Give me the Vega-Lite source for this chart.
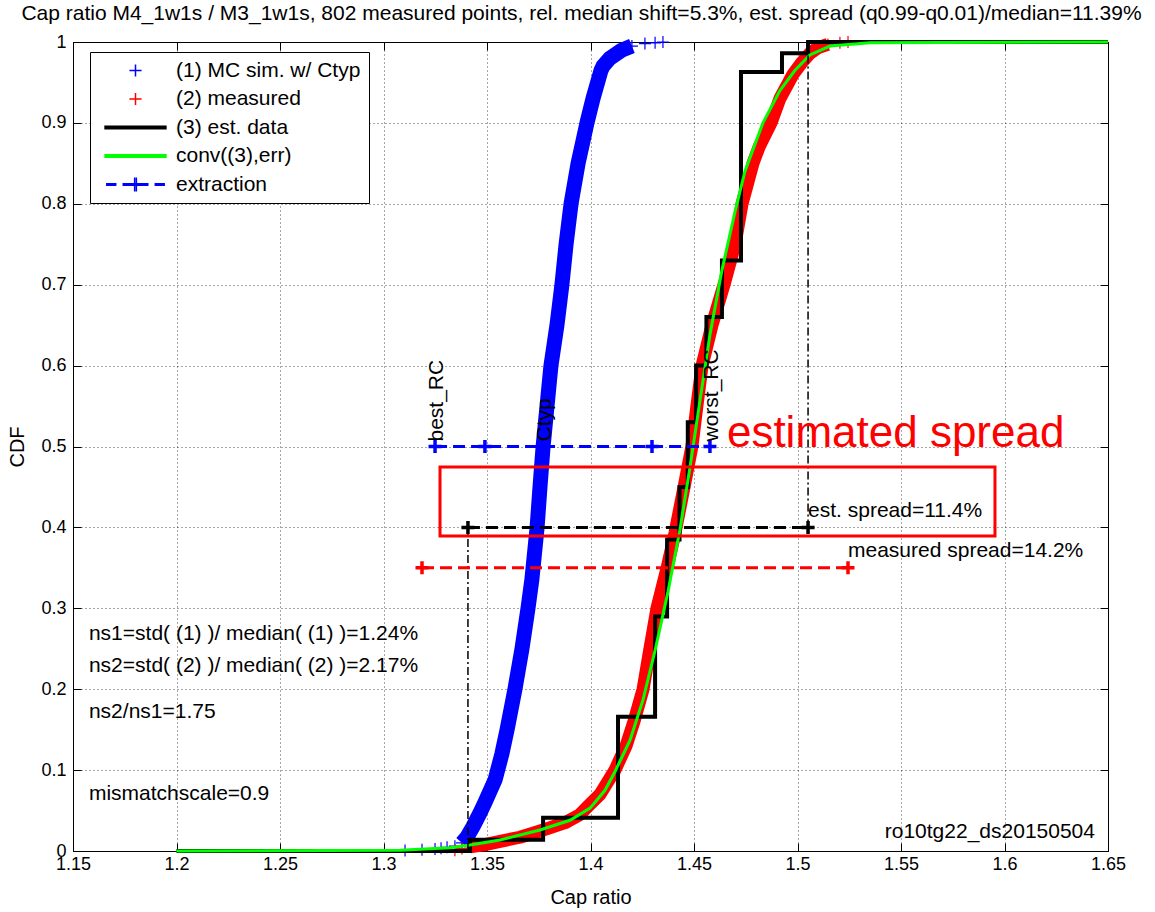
{
"$schema": "https://vega.github.io/schema/vega-lite/v6.json",
"autosize": "none",
"width": 1035,
"height": 809,
"padding": {"left": 73, "top": 42, "right": 47, "bottom": 61},
"background": "white",
"title": {"text": "Cap ratio M4_1w1s / M3_1w1s, 802 measured points, rel. median shift=5.3%, est. spread (q0.99-q0.01)/median=11.39%", "fontSize": 21, "fontWeight": "normal", "font": "Liberation Sans", "color": "#000", "anchor": "middle", "offset": 9, "dx": -9},
"datasets": {
"mc": [
{"p":0.0005,"x":1.3104},{"p":0.0015,"x":1.3186},{"p":0.0025,"x":1.3249},{"p":0.0035,"x":1.3278},{"p":0.0045,"x":1.3307},{"p":0.006,"x":1.3345},{"p":0.01,"x":1.3379},{"p":0.017,"x":1.3403},{"p":0.03,"x":1.3432},{"p":0.047,"x":1.3466},{"p":0.06,"x":1.349},{"p":0.088,"x":1.3539},{"p":0.12,"x":1.3572},{"p":0.15,"x":1.3597},{"p":0.2,"x":1.3635},{"p":0.25,"x":1.3669},{"p":0.3,"x":1.3698},{"p":0.336,"x":1.3717},{"p":0.4,"x":1.3742},{"p":0.45,"x":1.3756},{"p":0.5,"x":1.3771},{"p":0.55,"x":1.379},{"p":0.6,"x":1.3809},{"p":0.65,"x":1.3838},{"p":0.7,"x":1.3862},{"p":0.75,"x":1.3882},{"p":0.8,"x":1.3906},{"p":0.85,"x":1.394},{"p":0.9,"x":1.3983},{"p":0.93,"x":1.4012},{"p":0.965,"x":1.4051},{"p":0.97,"x":1.406},{"p":0.98,"x":1.4094},{"p":0.99,"x":1.4152},{"p":0.995,"x":1.42},{"p":0.998,"x":1.4263},{"p":0.999,"x":1.4312},{"p":1.0,"x":1.435}
],
"meas": [
{"p":0.001,"x":1.3345},{"p":0.003,"x":1.3379},{"p":0.005,"x":1.3418},{"p":0.008,"x":1.349},{"p":0.012,"x":1.3563},{"p":0.017,"x":1.3659},{"p":0.022,"x":1.3722},{"p":0.028,"x":1.3795},{"p":0.035,"x":1.3877},{"p":0.045,"x":1.3949},{"p":0.054,"x":1.3983},{"p":0.07,"x":1.4046},{"p":0.1,"x":1.4118},{"p":0.13,"x":1.4172},{"p":0.16,"x":1.421},{"p":0.2,"x":1.4254},{"p":0.25,"x":1.4287},{"p":0.3,"x":1.4321},{"p":0.35,"x":1.437},{"p":0.393,"x":1.4408},{"p":0.45,"x":1.4452},{"p":0.5,"x":1.449},{"p":0.55,"x":1.4514},{"p":0.6,"x":1.4539},{"p":0.65,"x":1.4587},{"p":0.7,"x":1.4645},{"p":0.75,"x":1.4698},{"p":0.8,"x":1.4732},{"p":0.85,"x":1.4785},{"p":0.87,"x":1.4814},{"p":0.9,"x":1.4872},{"p":0.93,"x":1.4915},{"p":0.96,"x":1.4978},{"p":0.975,"x":1.5022},{"p":0.986,"x":1.506},{"p":0.993,"x":1.5099},{"p":0.997,"x":1.5147},{"p":0.999,"x":1.5205},{"p":1.0,"x":1.5244}
],
"est": [
{"o":1,"x":1.2,"y":0},{"o":2,"x":1.3418,"y":0},{"o":3,"x":1.3418,"y":0.014},{"o":4,"x":1.3771,"y":0.014},{"o":5,"x":1.3771,"y":0.041},{"o":6,"x":1.4133,"y":0.041},{"o":7,"x":1.4133,"y":0.166},{"o":8,"x":1.4312,"y":0.166},{"o":9,"x":1.4312,"y":0.29},{"o":10,"x":1.437,"y":0.29},{"o":11,"x":1.437,"y":0.385},{"o":12,"x":1.443,"y":0.385},{"o":13,"x":1.443,"y":0.45},{"o":14,"x":1.447,"y":0.45},{"o":15,"x":1.447,"y":0.53},{"o":16,"x":1.451,"y":0.53},{"o":17,"x":1.451,"y":0.6},{"o":18,"x":1.456,"y":0.6},{"o":19,"x":1.456,"y":0.66},{"o":20,"x":1.4635,"y":0.66},{"o":21,"x":1.4635,"y":0.73},{"o":22,"x":1.4727,"y":0.73},{"o":23,"x":1.4727,"y":0.963},{"o":24,"x":1.4925,"y":0.963},{"o":25,"x":1.4925,"y":0.986},{"o":26,"x":1.5051,"y":0.986},{"o":27,"x":1.5051,"y":1.0},{"o":28,"x":1.65,"y":1.0}
],
"conv": [
{"x":1.2,"y":0},{"x":1.308,"y":0.001},{"x":1.3321,"y":0.004},{"x":1.3418,"y":0.0074},{"x":1.3563,"y":0.0136},{"x":1.3756,"y":0.026},{"x":1.3901,"y":0.038},{"x":1.3998,"y":0.053},{"x":1.407,"y":0.075},{"x":1.4118,"y":0.098},{"x":1.4191,"y":0.137},{"x":1.4254,"y":0.187},{"x":1.4312,"y":0.248},{"x":1.4374,"y":0.32},{"x":1.4432,"y":0.397},{"x":1.4481,"y":0.475},{"x":1.4529,"y":0.557},{"x":1.4577,"y":0.638},{"x":1.4635,"y":0.718},{"x":1.4698,"y":0.79},{"x":1.4746,"y":0.84},{"x":1.4833,"y":0.9},{"x":1.4915,"y":0.94},{"x":1.4988,"y":0.965},{"x":1.506,"y":0.984},{"x":1.5157,"y":0.995},{"x":1.535,"y":0.999},{"x":1.65,"y":1.0}
],
"vl": [
{"g":"a","x":1.3408,"y":0},{"g":"a","x":1.3408,"y":0.4},{"g":"b","x":1.5051,"y":0.4},{"g":"b","x":1.5051,"y":1.0}
],
"exb": [{"x":1.3249,"y":0.5},{"x":1.349,"y":0.5},{"x":1.3771,"y":0.5},{"x":1.4297,"y":0.5},{"x":1.4577,"y":0.5}],
"exk": [{"x":1.3408,"y":0.4},{"x":1.5051,"y":0.4}],
"exr": [{"x":1.3186,"y":0.35},{"x":1.5244,"y":0.35}],
"box": [{"x1":1.3273,"x2":1.5954,"y1":0.3894,"y2":0.4747}],
"rc": [{"x":1.3249,"y":0.5,"t":"best_RC"},{"x":1.3771,"y":0.5,"t":"Ctyp"},{"x":1.4577,"y":0.5,"t":"worst_RC"}],
"notes": [{"x":1.1577,"y":0.2608,"t":"ns1=std( (1) )/ median( (1) )=1.24%"},{"x":1.1577,"y":0.2213,"t":"ns2=std( (2) )/ median( (2) )=2.17%"},{"x":1.1577,"y":0.1644,"t":"ns2/ns1=1.75"},{"x":1.1577,"y":0.063,"t":"mismatchscale=0.9"},{"x":1.5051,"y":0.4129,"t":"est. spread=11.4%"},{"x":1.5244,"y":0.3634,"t":"measured spread=14.2%"}],
"big": [{"x":1.4659,"y":0.5,"t":"estimated spread"}],
"corner": [{"x":1.6437,"y":0.016,"t":"ro10tg22_ds20150504"}],
"leg": [{"s":"(1) MC sim. w/ Ctyp"},{"s":"(2) measured"},{"s":"(3) est. data"},{"s":"conv((3),err)"},{"s":"extraction"}]
},
"layer": [
{"data": {"name": "mc"}, "transform": [{"filter": "datum.p >= 0.008 && datum.p <= 0.997"}],
 "mark": {"type": "line", "color": "#0000ff", "strokeWidth": 15, "strokeCap": "butt", "strokeJoin": "round"},
 "encoding": {
  "x": {"field": "x", "type": "quantitative", "scale": {"domain": [1.15, 1.65], "nice": false, "zero": false},
        "axis": {"orient": "bottom", "values": [1.15,1.2,1.25,1.3,1.35,1.4,1.45,1.5,1.55,1.6,1.65], "format": "~g", "grid": true, "tickSize": -8, "labelPadding": 12, "title": "Cap ratio", "titlePadding": 14}},
  "y": {"field": "p", "type": "quantitative", "scale": {"domain": [0, 1], "nice": false, "zero": false},
        "axis": {"orient": "left", "values": [0,0.1,0.2,0.3,0.4,0.5,0.6,0.7,0.8,0.9,1], "format": "~g", "grid": true, "tickSize": -8, "labelPadding": 15, "title": "CDF", "titlePadding": 13}},
  "order": {"field": "p"}}},
{"data": {"name": "mc"},
 "mark": {"type": "point", "shape": "M-1,0H1M0,-1V1", "size": 144, "filled": false, "color": "#0000ff", "strokeWidth": 1.2, "opacity": 1},
 "encoding": {
  "x": {"field": "x", "type": "quantitative", "axis": {"orient": "top", "values": [1.15,1.2,1.25,1.3,1.35,1.4,1.45,1.5,1.55,1.6,1.65], "labels": false, "grid": false, "tickSize": -8, "title": null}},
  "y": {"field": "p", "type": "quantitative", "axis": {"orient": "right", "values": [0,0.1,0.2,0.3,0.4,0.5,0.6,0.7,0.8,0.9,1], "labels": false, "grid": false, "tickSize": -8, "title": null}}}},
{"data": {"name": "meas"}, "transform": [{"filter": "datum.p >= 0.004 && datum.p <= 0.997"}],
 "mark": {"type": "line", "color": "#ff0000", "strokeWidth": 13, "strokeCap": "butt", "strokeJoin": "round"},
 "encoding": {"x": {"field": "x", "type": "quantitative", "axis": null}, "y": {"field": "p", "type": "quantitative", "axis": null}, "order": {"field": "p"}}},
{"data": {"name": "meas"},
 "mark": {"type": "point", "shape": "M-1,0H1M0,-1V1", "size": 144, "filled": false, "color": "#ff0000", "strokeWidth": 1.2, "opacity": 1},
 "encoding": {"x": {"field": "x", "type": "quantitative", "axis": null}, "y": {"field": "p", "type": "quantitative", "axis": null}}},
{"data": {"name": "est"},
 "mark": {"type": "line", "color": "#000000", "strokeWidth": 4, "strokeJoin": "miter"},
 "encoding": {"x": {"field": "x", "type": "quantitative", "axis": null}, "y": {"field": "y", "type": "quantitative", "axis": null}, "order": {"field": "o"}}},
{"data": {"name": "conv"},
 "mark": {"type": "line", "color": "#00ff00", "strokeWidth": 3},
 "encoding": {"x": {"field": "x", "type": "quantitative", "axis": null}, "y": {"field": "y", "type": "quantitative", "axis": null}}},
{"data": {"name": "vl"},
 "mark": {"type": "line", "color": "#000000", "strokeWidth": 1.5, "strokeDash": [8, 3, 2, 3]},
 "encoding": {"x": {"field": "x", "type": "quantitative", "axis": null}, "y": {"field": "y", "type": "quantitative", "axis": null}, "detail": {"field": "g"}, "order": {"field": "y"}}},
{"data": {"name": "box"},
 "mark": {"type": "rect", "fillOpacity": 0, "stroke": "#ff0000", "strokeWidth": 3},
 "encoding": {"x": {"field": "x1", "type": "quantitative", "axis": null}, "x2": {"field": "x2"}, "y": {"field": "y1", "type": "quantitative", "axis": null}, "y2": {"field": "y2"}}},
{"data": {"name": "exb"},
 "mark": {"type": "line", "color": "#0000ff", "strokeWidth": 3, "strokeDash": [12, 6]},
 "encoding": {"x": {"field": "x", "type": "quantitative", "axis": null}, "y": {"field": "y", "type": "quantitative", "axis": null}}},
{"data": {"name": "exb"},
 "mark": {"type": "point", "shape": "M-1,0H1M0,-1V1", "size": 169, "filled": false, "color": "#0000ff", "strokeWidth": 3.5, "opacity": 1},
 "encoding": {"x": {"field": "x", "type": "quantitative", "axis": null}, "y": {"field": "y", "type": "quantitative", "axis": null}}},
{"data": {"name": "exk"},
 "mark": {"type": "line", "color": "#000000", "strokeWidth": 3, "strokeDash": [12, 6]},
 "encoding": {"x": {"field": "x", "type": "quantitative", "axis": null}, "y": {"field": "y", "type": "quantitative", "axis": null}}},
{"data": {"name": "exk"},
 "mark": {"type": "point", "shape": "M-1,0H1M0,-1V1", "size": 169, "filled": false, "color": "#000000", "strokeWidth": 3.5, "opacity": 1},
 "encoding": {"x": {"field": "x", "type": "quantitative", "axis": null}, "y": {"field": "y", "type": "quantitative", "axis": null}}},
{"data": {"name": "exr"},
 "mark": {"type": "line", "color": "#ff0000", "strokeWidth": 3, "strokeDash": [12, 6]},
 "encoding": {"x": {"field": "x", "type": "quantitative", "axis": null}, "y": {"field": "y", "type": "quantitative", "axis": null}}},
{"data": {"name": "exr"},
 "mark": {"type": "point", "shape": "M-1,0H1M0,-1V1", "size": 169, "filled": false, "color": "#ff0000", "strokeWidth": 3.5, "opacity": 1},
 "encoding": {"x": {"field": "x", "type": "quantitative", "axis": null}, "y": {"field": "y", "type": "quantitative", "axis": null}}},
{"data": {"name": "rc"},
 "mark": {"type": "text", "angle": 270, "align": "left", "baseline": "middle", "fontSize": 21, "font": "Liberation Sans", "color": "#000", "dx": 5, "dy": 2},
 "encoding": {"x": {"field": "x", "type": "quantitative", "axis": null}, "y": {"field": "y", "type": "quantitative", "axis": null}, "text": {"field": "t"}}},
{"data": {"name": "notes"},
 "mark": {"type": "text", "align": "left", "baseline": "alphabetic", "fontSize": 21, "font": "Liberation Sans", "color": "#000"},
 "encoding": {"x": {"field": "x", "type": "quantitative", "axis": null}, "y": {"field": "y", "type": "quantitative", "axis": null}, "text": {"field": "t"}}},
{"data": {"name": "big"},
 "mark": {"type": "text", "align": "left", "baseline": "alphabetic", "fontSize": 44, "font": "Liberation Sans", "color": "#ff0000"},
 "encoding": {"x": {"field": "x", "type": "quantitative", "axis": null}, "y": {"field": "y", "type": "quantitative", "axis": null}, "text": {"field": "t"}}},
{"data": {"name": "corner"},
 "mark": {"type": "text", "align": "right", "baseline": "alphabetic", "fontSize": 21, "font": "Liberation Sans", "color": "#000"},
 "encoding": {"x": {"field": "x", "type": "quantitative", "axis": null}, "y": {"field": "y", "type": "quantitative", "axis": null}, "text": {"field": "t"}}},
{"data": {"name": "leg"},
 "mark": {"type": "point", "filled": false, "opacity": 1},
 "encoding": {
  "x": {"field": "lx", "type": "quantitative", "axis": null},
  "y": {"field": "ly", "type": "quantitative", "axis": null},
  "color": {"field": "s", "type": "nominal",
    "scale": {"domain": ["(1) MC sim. w/ Ctyp", "(2) measured", "(3) est. data", "conv((3),err)", "extraction"], "range": ["#0000ff", "#ff0000", "#000000", "#00ff00", "#0000ff"]},
    "legend": {"orient": "none", "legendX": 17, "legendY": 10, "title": null, "padding": 8, "symbolOffset": 27, "labelOffset": 30, "rowPadding": 6.5, "symbolSize": 300, "symbolStrokeWidth": 1.5, "labelFontSize": 21, "labelFont": "Liberation Sans", "labelColor": "#000", "labelLimit": 400, "fillColor": "#ffffff", "strokeColor": "#000000", "cornerRadius": 0}},
  "shape": {"field": "s", "type": "nominal",
    "scale": {"domain": ["(1) MC sim. w/ Ctyp", "(2) measured", "(3) est. data", "conv((3),err)", "extraction"],
      "range": ["M-0.7,0H0.7M0,-0.7V0.7", "M-0.7,0H0.7M0,-0.7V0.7", "M-3.6,-0.15H3.6M-3.6,-0.05H3.6M-3.6,0.05H3.6M-3.6,0.15H3.6", "M-3.6,-0.15H3.6M-3.6,-0.05H3.6M-3.6,0.05H3.6M-3.6,0.15H3.6", "M-3.4,-0.1H-2.2M-3.4,0.1H-2.2M-1.5,-0.1H1.5M-1.5,0.1H1.5M-0.1,-0.8V0.8M0.1,-0.8V0.8M2.2,-0.1H3.4M2.2,0.1H3.4"]},
    "legend": {"orient": "none", "legendX": 17, "legendY": 10, "title": null}}}}
],
"resolve": {"axis": {"x": "independent", "y": "independent"}},
"config": {
 "font": "Liberation Sans",
 "view": {"stroke": "#000000", "strokeWidth": 1},
 "axis": {"domainColor": "#000", "tickColor": "#000", "labelColor": "#000", "titleColor": "#000", "labelFontSize": 18, "titleFontSize": 20, "titleFontWeight": "normal", "labelFont": "Liberation Sans", "titleFont": "Liberation Sans", "gridColor": "#000", "gridDash": [1, 3], "gridOpacity": 0.7, "gridWidth": 1, "domainWidth": 1, "tickWidth": 1, "labelFlush": false, "labelOverlap": false}
}
}
